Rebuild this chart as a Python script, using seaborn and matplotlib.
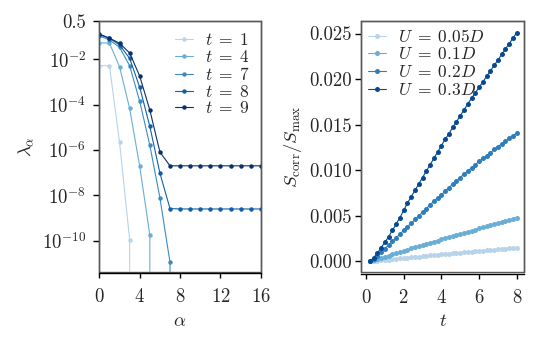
import matplotlib
matplotlib.use("Agg")
import matplotlib.pyplot as plt
import matplotlib.ticker as mticker
import numpy as np
import pandas as pd
import seaborn as sns

# --- left panel: eigenvalues lambda_alpha vs alpha for several times t
alpha = list(range(17))
t_labels = [1, 4, 7, 8, 9]
lam_t1 = [5.2e-3, 5.2e-3, 2.2e-6, 1.1e-10] + [0.0] * 13
lam_t4 = [5.4e-2, 5.1e-2, 4.7e-3, 6.8e-5, 1.9e-7, 1.8e-10] + [0.0] * 11
lam_t7 = [1.07e-1, 7.1e-2, 3.4e-2, 5.2e-3, 1.4e-4, 1.6e-6, 7.8e-9, 1.1e-11] + [0.0] * 9
lam_t8 = [1.2e-1, 8.5e-2, 4.3e-2, 1.1e-2, 5.8e-4, 1.1e-5, 9.5e-8, 2.6e-9] + [2.5e-9] * 9
lam_t9 = [1.3e-1, 8.5e-2, 5.1e-2, 1.9e-2, 1.8e-3, 5.8e-5, 8.1e-7, 2.0e-7] + [2.0e-7] * 9
lam_series = [lam_t1, lam_t4, lam_t7, lam_t8, lam_t9]

# --- right panel: S_corr / S_max vs t for several U
t_vals = [0.2, 0.4, 0.6, 0.8, 1.0, 1.2, 1.4, 1.6, 1.8, 2.0,
          2.2, 2.4, 2.6, 2.8, 3.0, 3.2, 3.4, 3.6, 3.8, 4.0,
          4.2, 4.4, 4.6, 4.8, 5.0, 5.2, 5.4, 5.6, 5.8, 6.0,
          6.2, 6.4, 6.6, 6.8, 7.0, 7.2, 7.4, 7.6, 7.8, 8.0]
u_labels = ["0.05", "0.1", "0.2", "0.3"]
s_u005 = [0.00000, 0.00004, 0.00008, 0.00012, 0.00016, 0.00020, 0.00025, 0.00029, 0.00033, 0.00037,
          0.00041, 0.00045, 0.00049, 0.00053, 0.00057, 0.00061, 0.00065, 0.00069, 0.00073, 0.00077,
          0.00081, 0.00085, 0.00088, 0.00092, 0.00096, 0.00099, 0.00103, 0.00107, 0.00110, 0.00114,
          0.00117, 0.00121, 0.00124, 0.00128, 0.00131, 0.00135, 0.00138, 0.00142, 0.00146, 0.00150]
s_u01 = [0.00000, 0.00012, 0.00025, 0.00038, 0.00051, 0.00064, 0.00077, 0.00090, 0.00103, 0.00116,
         0.00129, 0.00142, 0.00155, 0.00167, 0.00180, 0.00192, 0.00205, 0.00217, 0.00229, 0.00241,
         0.00253, 0.00265, 0.00277, 0.00289, 0.00301, 0.00313, 0.00325, 0.00337, 0.00349, 0.00361,
         0.00373, 0.00385, 0.00397, 0.00409, 0.00421, 0.00432, 0.00444, 0.00456, 0.00468, 0.00480]
s_u02 = [0.0000, 0.0003, 0.0006, 0.0010, 0.0014, 0.0018, 0.0022, 0.0026, 0.0030, 0.0034,
         0.0038, 0.0042, 0.0046, 0.0050, 0.0054, 0.0058, 0.0062, 0.0066, 0.0070, 0.0073,
         0.0077, 0.0081, 0.0085, 0.0088, 0.0092, 0.0096, 0.0099, 0.0103, 0.0106, 0.0110,
         0.0113, 0.0116, 0.0119, 0.0123, 0.0126, 0.0129, 0.0132, 0.0135, 0.0138, 0.0141]
s_u03 = [0.0000, 0.0004, 0.0009, 0.0015, 0.0021, 0.0027, 0.0034, 0.0041, 0.0048, 0.0056,
         0.0064, 0.0071, 0.0078, 0.0085, 0.0092, 0.0099, 0.0106, 0.0113, 0.0120, 0.0127,
         0.0134, 0.0140, 0.0147, 0.0153, 0.0160, 0.0166, 0.0173, 0.0179, 0.0185, 0.0191,
         0.0197, 0.0203, 0.0209, 0.0215, 0.0221, 0.0227, 0.0233, 0.0239, 0.0245, 0.0251]
s_series = [s_u005, s_u01, s_u02, s_u03]

sns.set_theme(style="ticks")
plt.rcParams.update({
    "font.family": "serif",
    "font.serif": ["cmr10"],
    "mathtext.fontset": "cm",
    "axes.formatter.use_mathtext": True,
    "font.size": 13,
    "axes.labelsize": 13.5,
    "xtick.labelsize": 13.5,
    "ytick.labelsize": 13.5,
    "legend.fontsize": 12.5,
    "axes.unicode_minus": True,
})

blues = sns.color_palette("Blues", as_cmap=True)
left_colors = [blues(v) for v in [0.3, 0.5, 0.65, 0.82, 1.0]]
right_colors = [blues(v) for v in [0.3, 0.5, 0.7, 0.9]]

fig = plt.figure(figsize=(5.4, 3.4), dpi=100)
ax1 = fig.add_axes([0.184, 0.201, 0.299, 0.738])
ax2 = fig.add_axes([0.669, 0.199, 0.302, 0.740])


def style_frame(ax, ypad):
    # grey box around the panel, black tick axis slightly offset at the bottom
    ax.patch.set_edgecolor("0.35")
    ax.patch.set_linewidth(1.0)
    for side in ["top", "right", "left"]:
        ax.spines[side].set_color("0.35")
        ax.spines[side].set_linewidth(1.0)
    ax.spines["bottom"].set_color("black")
    ax.spines["bottom"].set_linewidth(1.0)
    ax.spines["bottom"].set_position(("outward", 1.2))
    ax.tick_params(axis="x", direction="out", length=3.8, width=1.0, color="black", pad=7)
    ax.tick_params(axis="y", direction="out", length=4.5, width=1.0, color="black", pad=ypad)


# left panel
for t, lam, col in zip(t_labels, lam_series, left_colors):
    df = pd.DataFrame({"alpha": alpha, "lam": lam})
    sns.lineplot(data=df, x="alpha", y="lam", ax=ax1, color=col, marker="o",
                 markersize=3.2, markeredgewidth=0, linewidth=0.8,
                 estimator=None, sort=False, label=rf"$t\;=\;{t}$")
ax1.set_yscale("log")
ax1.set_xlim(0, 16)
ax1.set_ylim(4.3e-12, 0.5)
ax1.set_xticks([0, 4, 8, 12, 16])
ax1.yaxis.set_major_locator(mticker.FixedLocator([0.5, 1e-2, 1e-4, 1e-6, 1e-8, 1e-10]))
ax1.yaxis.set_major_formatter(mticker.FixedFormatter(
    ["0.5", "$10^{-2}$", "$10^{-4}$", "$10^{-6}$", "$10^{-8}$", "$10^{-10}$"]))
ax1.yaxis.set_minor_locator(mticker.NullLocator())
ax1.set_xlabel(r"$\alpha$")
ax1.set_ylabel(r"$\lambda_\alpha$")
style_frame(ax1, ypad=5)
ax1.legend(loc="upper right", frameon=False, handlelength=1.0, labelspacing=0.05,
           borderaxespad=0.3, borderpad=0.35, handletextpad=0.7)

# right panel
for u, s, col in zip(u_labels, s_series, right_colors):
    df = pd.DataFrame({"t": t_vals, "S": s})
    sns.lineplot(data=df, x="t", y="S", ax=ax2, color=col, marker="o",
                 markersize=3.6, markeredgewidth=0, linewidth=0.8,
                 estimator=None, sort=False, label=rf"$U\;=\;{u}D$")
ax2.set_xlim(-0.25, 8.4)
ax2.set_ylim(-0.0012, 0.0264)
ax2.set_xticks([0, 2, 4, 6, 8])
ax2.set_yticks([0.0, 0.005, 0.010, 0.015, 0.020, 0.025])
ax2.yaxis.set_major_formatter(mticker.FormatStrFormatter("%.3f"))
ax2.set_xlabel(r"$t$")
ax2.set_ylabel(r"$S_{\rm corr}/S_{\rm max}$")
style_frame(ax2, ypad=2)
ax2.legend(loc="upper left", frameon=False, handlelength=1.0, labelspacing=0.1,
           borderaxespad=0.2, borderpad=0.2, handletextpad=0.7)

fig.savefig("out.png", dpi=100)
